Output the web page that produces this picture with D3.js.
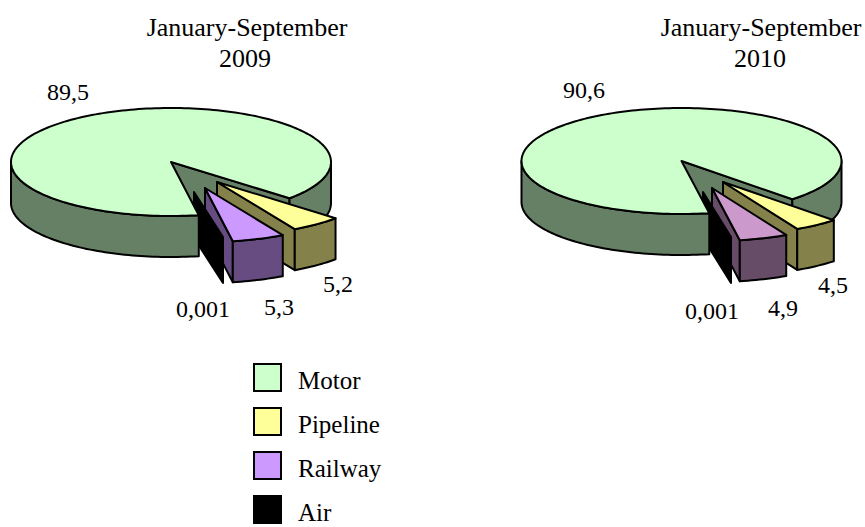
<!DOCTYPE html>
<html>
<head>
<meta charset="utf-8">
<style>
  html, body { margin: 0; padding: 0; background: #fff; }
  svg { display: block; }
  text { font-family: "Liberation Serif", "Times New Roman", serif; font-size: 26px; fill: #000; }
  text.value { font-size: 24px; }
  text.key { font-size: 25px; }
</style>
<script src="https://cdnjs.cloudflare.com/ajax/libs/d3/7.8.5/d3.min.js"></script>
</head>
<body>
<svg id="chart" width="865" height="527"></svg>
<script>
// Freight turnover shares by mode of transport
const categories = ["Motor", "Pipeline", "Railway", "Air"];
const values2009 = [89.5, 5.2, 5.3, 0.001];
const values2010 = [90.6, 4.5, 4.9, 0.001];
const periodTitle = "January-September";
const years = ["2009", "2010"];

const swatchColors = ["#CCFFCC", "#FFFF99", "#CC99FF", "#000000"];

const svg = d3.select("#chart");
const deg = Math.PI / 180;
const depth = 41;
const airDepth = 46;
const outline = 2;

const charts = [
  {
    values: values2009, year: years[0],
    cx: 171, cy: 162, rx: 160, ry: 54,
    top: ["#CCFFCC", "#FFFF99", "#CC99FF", "#000000"],
    side: ["#668066", "#84824A", "#664C80", "#000000"],
    offsets: [[0, 0], [46, 20], [34, 26], [23, 30]],
    airReach: [29, 45],
    titleX: 247, yearX: 245,
    labels: [[68, 100], [338, 292], [279, 315], [203, 317]]
  },
  {
    values: values2010, year: years[1],
    cx: 681.5, cy: 161, rx: 160, ry: 53,
    top: ["#CCFFCC", "#FFFF99", "#CC99CC", "#000000"],
    side: ["#668066", "#84824A", "#664C66", "#000000"],
    offsets: [[0, 0], [41.5, 21], [30.5, 27], [21.5, 31]],
    airReach: [28, 45],
    titleX: 761, yearX: 760,
    labels: [[584, 98], [833, 293], [783, 316], [712, 319]]
  }
];

const pie = d3.pie().sort(null).startAngle(170 * deg).endAngle(530 * deg);
const line = d3.line();

function drawChart(c) {
  const g = svg.append("g");
  const arcs = pie(c.values);

  // Angles run clockwise from the back of the disc, flattened onto an ellipse.
  const project = (a, off, drop = 0, r = 1) => [
    c.cx + off[0] + Math.sin(a) * c.rx * r,
    c.cy + off[1] - Math.cos(a) * c.ry * r + drop
  ];
  const sweep = (a0, a1, off, drop = 0) => {
    const n = Math.max(2, Math.ceil(Math.abs(a1 - a0) / (1.5 * deg)));
    return d3.range(n + 1).map(i => project(a0 + (a1 - a0) * i / n, off, drop));
  };
  const shape = (pts, fill) => g.append("path")
    .attr("d", line(pts) + "Z")
    .attr("fill", fill)
    .attr("stroke", "#000")
    .attr("stroke-width", outline)
    .attr("stroke-linejoin", "round");

  const apex = (off, drop = 0) => project(0, off, drop, 0);

  const top = i => {
    const d = arcs[i], off = c.offsets[i];
    shape([apex(off), ...sweep(d.startAngle, d.endAngle, off)], c.top[i]);
  };
  const cutWall = i => {
    const d = arcs[i], off = c.offsets[i];
    shape([apex(off), project(d.endAngle, off), project(d.endAngle, off, depth), apex(off, depth)], c.side[i]);
  };
  // Outer rim, kept to the given stretch of the circle.
  const rim = (i, lo, hi) => {
    const d = arcs[i], off = c.offsets[i];
    const a0 = Math.max(d.startAngle, lo * deg), a1 = Math.min(d.endAngle, hi * deg);
    if (a1 > a0) shape([...sweep(a0, a1, off), ...sweep(a1, a0, off, depth)], c.side[i]);
  };
  // The air slice is too thin to show a top, so only its sliver of wall is drawn.
  const airWall = () => {
    const [ax, ay] = apex(c.offsets[3]);
    const [dx, dy] = c.airReach;
    shape([[ax, ay], [ax + dx, ay + dy], [ax + dx, ay + dy + airDepth], [ax, ay + airDepth]], c.side[3]);
  };

  cutWall(0);
  rim(0, 450, 630);
  cutWall(1); rim(1, 450, 630); top(1);
  cutWall(2);
  airWall();
  rim(0, 90, 270);
  top(0);
  rim(2, 450, 630); top(2);

  g.append("text").attr("x", c.titleX).attr("y", 36).attr("text-anchor", "middle").text(periodTitle);
  g.append("text").attr("x", c.yearX).attr("y", 67).attr("text-anchor", "middle").text(c.year);

  c.values.forEach((v, i) => {
    g.append("text")
      .attr("class", "value")
      .attr("x", c.labels[i][0]).attr("y", c.labels[i][1])
      .attr("text-anchor", "middle")
      .text(String(v).replace(".", ","));
  });
}

charts.forEach(drawChart);

// Legend
const legendY = d3.scalePoint().domain(categories).range([364, 496]);
const legend = svg.append("g");
categories.forEach((name, i) => {
  legend.append("rect")
    .attr("x", 254).attr("y", legendY(name))
    .attr("width", 27).attr("height", 27)
    .attr("fill", swatchColors[i])
    .attr("stroke", "#000").attr("stroke-width", outline);
  legend.append("text")
    .attr("class", "key")
    .attr("x", 298).attr("y", legendY(name) + 25)
    .text(name);
});
</script>
</body>
</html>
